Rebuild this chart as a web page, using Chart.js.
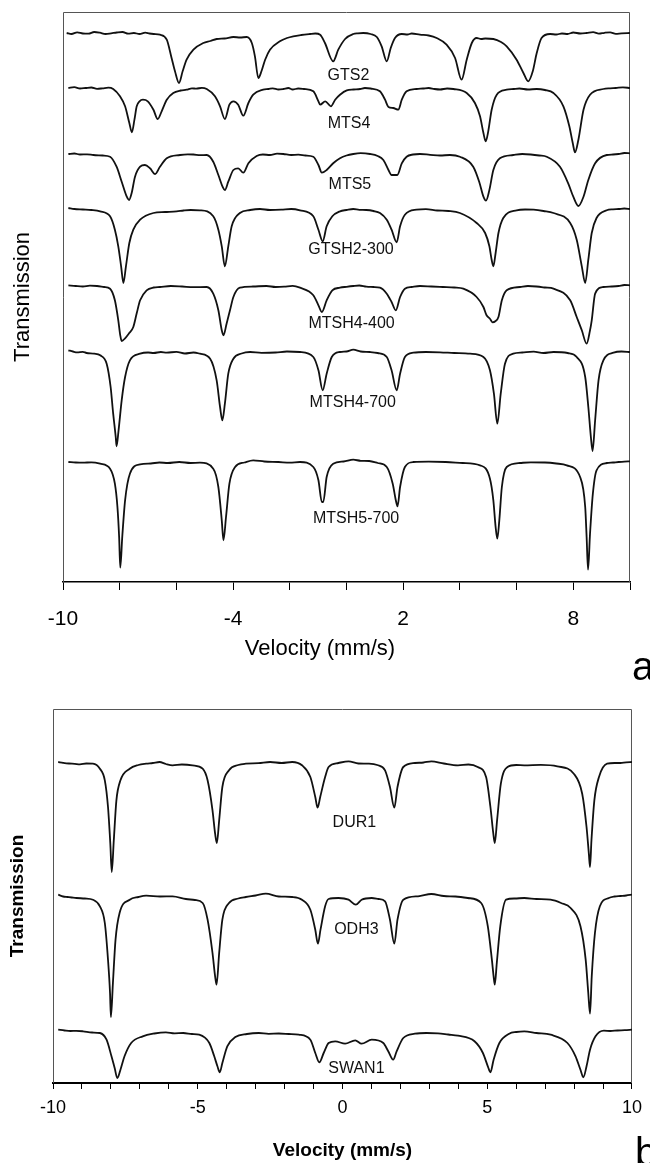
<!DOCTYPE html>
<html>
<head>
<meta charset="utf-8">
<title>Mössbauer spectra</title>
<script src="https://cdn.jsdelivr.net/npm/chart.js@4.4.1/dist/chart.umd.min.js"></script>
<style>
  html, body { margin: 0; padding: 0; background: #fff; }
  body { position: relative; width: 650px; height: 1163px; overflow: hidden; }
  #chartA { position: absolute; left: 0; top: 0; }
  #chartB { position: absolute; left: 0; top: 660px; }
</style>
</head>
<body>
<canvas id="chartA" width="650" height="690"></canvas>
<canvas id="chartB" width="650" height="503"></canvas>
<script>
// ================= DATA =================
// each spectrum: [velocity (mm/s), relative transmission (%)]

// ---- panel a ----
const gts2 = [
    [-9.87,100.0],[-9.7,99.9],[-9.5,100.07],[-9.3,99.95],[-9.1,99.93],[-8.9,100.1],[-8.7,100.03],
    [-8.5,99.9],[-8.3,99.97],[-8.1,100.05],[-7.9,100.1],[-7.7,99.93],[-7.5,100.0],[-7.3,99.9],
    [-7.1,100.03],[-6.95,99.95],[-6.8,99.9],[-6.58,99.83],[-6.34,99.33],[-6.17,97.5],[-6.05,96.17],[-5.91,95.0],
    [-5.78,96.17],[-5.64,97.33],[-5.4,98.33],[-5.05,99.0],[-4.8,99.2],[-4.58,99.4],[-4.3,99.45],[-3.99,99.6],
    [-3.75,99.55],[-3.52,99.6],[-3.34,99.0],[-3.23,97.67],[-3.11,95.5],[-3.0,96.17],[-2.87,97.33],
    [-2.7,98.33],[-2.35,99.17],[-2.1,99.5],[-1.88,99.67],[-1.6,99.8],[-1.29,99.9],[-1.1,99.95],[-0.93,99.83],[-0.76,99.0],
    [-0.47,97.17],[-0.29,98.33],[-0.05,99.4],[0.24,99.9],[0.4,99.97],[0.59,100.0],[0.85,99.9],[1.07,99.6],
    [1.24,98.67],[1.42,97.17],[1.56,98.5],[1.71,99.5],[1.95,99.9],[2.15,99.85],[2.3,99.95],[2.59,99.83],
    [2.9,99.75],[3.18,99.5],[3.53,98.83],[3.83,97.5],[4.06,95.33],[4.24,97.33],[4.42,99.0],
    [4.59,99.5],[4.75,99.4],[4.9,99.45],[5.18,99.4],[5.45,99.1],[5.65,98.67],[6.0,97.33],[6.24,96.0],[6.41,95.17],
    [6.57,96.17],[6.71,98.0],[6.88,99.5],[7.18,99.9],[7.4,99.85],[7.6,99.95],[7.8,99.9],[8.0,100.05],
    [8.25,99.95],[8.47,100.0],[8.7,100.08],[8.9,99.93],[9.1,100.02],[9.3,100.07],[9.5,99.92],[9.7,99.97],[10.0,100.0]
];
const mts4 = [
    [-9.81,100.0],[-9.6,100.08],[-9.4,99.95],[-9.2,100.0],[-9.0,100.05],[-8.8,99.92],[-8.6,99.97],
    [-8.4,100.03],[-8.23,99.9],[-7.99,99.17],[-7.81,98.17],
    [-7.66,96.5],[-7.57,95.57],[-7.48,96.83],[-7.4,98.17],[-7.3,98.67],[-7.18,98.83],[-7.01,98.67],
    [-6.81,97.83],[-6.66,96.9],[-6.52,97.67],[-6.34,98.83],[-6.11,99.5],[-5.85,99.75],[-5.64,99.83],[-5.45,99.97],[-5.3,99.93],
    [-5.1,100.02],[-4.93,99.9],[-4.64,99.17],[-4.46,98.17],[-4.29,96.9],[-4.13,98.33],[-3.99,98.67],[-3.82,98.33],
    [-3.64,97.23],[-3.46,98.5],[-3.29,99.33],[-2.94,99.83],[-2.75,99.9],[-2.6,99.97],[-2.4,99.85],[-2.23,99.9],[-2.05,100.0],[-1.9,99.85],
    [-1.7,99.95],[-1.5,99.9],[-1.17,99.67],[-0.99,98.67],[-0.93,98.33],[-0.75,98.67],[-0.55,98.17],[-0.4,98.83],
    [-0.23,99.33],[0.01,99.77],[0.25,99.85],[0.48,99.9],[0.65,100.0],[0.85,99.95],[1.18,99.67],[1.36,98.83],[1.48,98.1],
    [1.65,98.0],[1.83,97.83],[1.95,98.83],[2.12,99.67],[2.47,99.9],[2.7,99.95],[2.9,100.0],[3.1,99.9],[3.3,99.85],
    [3.55,99.95],[3.77,99.9],[4.24,99.5],[4.53,98.5],[4.71,97.17],[4.83,95.5],[4.91,94.67],[5.0,95.67],
    [5.12,97.83],[5.3,99.33],[5.65,99.83],[5.9,99.9],[6.1,99.95],[6.4,99.85],[6.71,99.9],[7.0,99.8],[7.3,99.5],[7.65,98.17],
    [7.86,96.17],[7.98,94.5],[8.06,93.57],[8.18,94.83],[8.36,97.83],[8.59,99.33],[9.06,99.9],
    [9.3,99.97],[9.5,100.0],[9.75,100.06],[10.0,100.0]
];
const mts5 = [
    [-9.81,100.0],[-9.6,100.05],[-9.4,99.95],[-9.15,99.97],[-8.93,99.9],[-8.6,99.85],[-8.34,99.73],[-8.11,98.73],[-7.93,97.23],[-7.75,95.73],
    [-7.67,95.4],[-7.58,96.07],[-7.46,97.73],[-7.28,98.73],[-7.11,98.9],[-6.93,98.57],[-6.75,98.0],
    [-6.58,98.73],[-6.34,99.57],[-5.87,99.9],[-5.6,99.97],[-5.4,99.95],[-5.15,99.88],[-4.93,99.9],[-4.7,99.23],[-4.52,97.9],
    [-4.37,96.73],[-4.29,96.4],[-4.17,97.23],[-3.99,98.4],[-3.82,98.57],[-3.64,98.13],[-3.46,99.07],
    [-3.17,99.8],[-2.95,99.95],[-2.7,99.9],[-2.45,100.03],[-2.23,100.0],[-1.95,99.9],[-1.7,99.93],[-1.45,99.85],[-1.17,99.73],[-0.99,98.9],[-0.87,98.13],
    [-0.7,98.4],[-0.47,99.07],[-0.23,99.57],[0.0,99.85],[0.24,100.0],[0.5,100.08],[0.83,100.0],[1.1,99.8],[1.3,99.4],[1.48,98.4],
    [1.59,97.9],[1.79,97.9],[1.95,99.07],[2.12,99.73],[2.35,99.95],[2.59,100.0],[2.95,99.92],[3.3,99.85],[3.65,99.9],[4.0,99.73],
    [4.47,98.73],[4.68,97.23],[4.83,95.73],[4.92,95.33],[5.04,96.4],[5.18,98.4],[5.41,99.57],
    [5.88,99.9],[6.2,100.0],[6.5,99.95],[6.8,99.85],[7.06,99.73],[7.53,98.73],[7.82,97.07],[8.0,95.73],[8.18,94.8],
    [8.36,95.73],[8.53,97.4],[8.77,99.07],[9.18,99.9],[9.4,99.95],[9.6,100.0],[9.8,100.1],[10.0,100.07]
];
const gtsh2_300 = [
    [-9.81,100.1],[-9.6,100.0],[-9.3,99.95],[-9.0,99.9],[-8.69,99.77],[-8.34,99.27],[-8.17,97.93],[-8.05,96.27],[-7.95,94.27],
    [-7.87,92.6],[-7.78,94.27],[-7.66,96.6],[-7.52,97.93],[-7.28,98.93],[-6.81,99.6],[-6.4,99.7],[-5.99,99.77],
    [-5.75,99.85],[-5.5,99.9],[-5.17,99.87],[-4.7,99.27],[-4.52,97.93],[-4.4,96.27],[-4.29,94.27],[-4.17,96.27],
    [-4.05,98.27],[-3.76,99.6],[-3.4,99.9],[-3.05,100.0],[-2.7,99.9],[-2.3,99.93],[-1.95,100.0],[-1.64,99.87],[-1.17,99.27],[-0.99,97.93],
    [-0.84,96.77],[-0.7,98.27],[-0.5,99.27],[-0.23,99.77],[0.0,99.9],[0.24,100.0],[0.45,99.92],[0.7,99.9],[0.95,99.8],[1.18,99.6],
    [1.42,98.93],[1.59,97.93],[1.77,96.67],[1.89,98.27],[2.06,99.43],[2.47,99.93],[2.8,99.98],[3.2,99.85],[3.6,99.8],
    [4.0,99.6],[4.59,98.6],[4.89,97.6],[5.04,96.27],[5.12,94.93],[5.18,94.27],[5.26,95.6],
    [5.36,97.6],[5.53,99.1],[6.0,99.87],[6.3,99.95],[6.6,99.93],[6.95,99.8],[7.3,99.6],[7.89,98.6],[8.12,96.93],
    [8.3,94.27],[8.42,92.6],[8.53,94.93],[8.65,97.6],[8.82,99.1],[9.18,99.87],[9.4,99.97],[9.6,100.0],[9.8,100.05],[10.0,100.0]
];
const mtsh4_400 = [
    [-9.81,100.07],[-9.55,100.0],[-9.3,99.95],[-9.05,100.03],[-8.8,100.0],[-8.55,99.9],[-8.34,99.73],[-8.17,98.57],[-8.05,96.57],[-7.98,95.07],
    [-7.93,94.5],[-7.81,94.77],[-7.67,95.27],[-7.52,95.9],[-7.4,97.27],[-7.28,98.57],[-7.05,99.57],
    [-6.8,99.85],[-6.58,99.9],[-6.2,100.0],[-5.8,99.95],[-5.4,99.88],[-4.93,99.9],[-4.7,99.23],[-4.52,97.57],[-4.4,95.57],[-4.34,95.07],
    [-4.23,96.23],[-4.11,97.57],[-3.99,98.9],[-3.76,99.83],[-3.3,99.95],[-2.82,100.0],[-2.5,99.9],[-2.2,99.93],[-1.9,100.02],[-1.64,99.83],
    [-1.17,99.07],[-0.99,98.07],[-0.87,97.4],[-0.7,98.57],[-0.5,99.57],[-0.23,99.83],[0.0,99.92],[0.24,100.0],
    [0.45,100.05],[0.7,99.93],[0.95,99.9],[1.18,99.83],[1.42,99.23],[1.59,98.4],[1.74,97.57],[1.89,98.9],[2.06,99.73],
    [2.3,99.9],[2.59,100.0],[3.0,99.95],[3.4,99.9],[3.8,99.85],[4.12,99.73],[4.59,98.9],[4.83,97.9],[4.94,97.07],[5.06,96.73],
    [5.15,96.37],[5.25,96.47],[5.36,96.9],[5.48,98.57],[5.65,99.57],[6.12,99.9],[6.4,100.0],[6.7,99.95],
    [7.0,99.85],[7.3,99.73],[7.89,98.57],[8.12,96.9],[8.3,95.57],[8.47,94.23],[8.59,95.57],[8.65,96.57],
    [8.77,99.23],[9.06,99.9],[9.35,99.95],[9.6,100.0],[9.8,100.1],[10.0,100.07]
];
const mtsh4_700 = [
    [-9.81,100.17],[-9.65,100.05],[-9.5,99.97],[-9.3,100.02],[-9.17,99.9],[-8.9,99.83],[-8.69,99.67],[-8.46,98.83],[-8.32,96.5],
    [-8.23,93.83],[-8.14,91.5],[-8.11,90.57],[-8.04,92.17],[-7.93,95.17],[-7.81,97.5],[-7.64,99.17],
    [-7.28,99.83],[-7.0,99.95],[-6.8,99.9],[-6.55,100.0],[-6.34,99.93],[-6.0,100.02],[-5.7,99.85],[-5.4,99.95],[-5.17,99.83],[-4.81,99.33],[-4.58,97.17],
    [-4.46,94.5],[-4.38,93.17],[-4.29,94.83],[-4.17,97.83],[-3.99,99.33],[-3.7,99.85],[-3.4,100.0],[-3.0,99.92],[-2.5,99.95],
    [-2.1,100.05],[-1.64,100.0],[-1.17,99.5],[-0.99,98.17],[-0.84,96.17],[-0.7,97.83],[-0.52,99.5],[-0.23,100.0],
    [0.0,100.05],[0.24,100.23],[0.5,100.05],[0.83,100.0],[1.1,99.9],[1.42,99.5],[1.59,98.17],[1.77,96.17],[1.89,97.83],[2.06,99.5],
    [2.36,99.93],[2.8,100.0],[3.3,99.97],[3.8,99.9],[4.36,99.83],[4.83,99.5],[5.06,98.17],[5.2,95.83],[5.32,92.83],
    [5.44,95.83],[5.59,98.83],[5.88,99.83],[6.2,99.95],[6.6,100.03],[6.95,99.9],[7.3,100.0],[7.8,99.9],[8.12,99.5],
    [8.42,97.5],[8.53,94.5],[8.62,91.5],[8.68,90.1],[8.77,93.17],[8.89,97.17],[9.06,99.17],
    [9.42,99.93],[9.7,100.05],[10.0,100.0]
];
const mtsh5_700 = [
    [-9.81,100.0],[-9.55,99.95],[-9.3,99.93],[-9.0,99.97],[-8.69,99.83],[-8.34,99.33],[-8.17,97.83],[-8.08,95.5],[-8.02,92.5],
    [-7.98,89.43],[-7.91,92.5],[-7.81,96.17],[-7.64,98.83],[-7.28,99.77],[-6.9,99.85],[-6.6,99.95],[-6.3,99.9],[-5.9,100.0],
    [-5.5,99.9],[-5.17,99.93],[-4.7,99.33],[-4.52,97.5],[-4.4,94.17],[-4.34,92.17],[-4.25,94.5],[-4.13,97.83],[-3.93,99.5],
    [-3.6,99.95],[-3.29,100.17],[-2.9,100.05],[-2.4,100.0],[-2.0,99.93],[-1.64,100.0],[-1.17,99.5],[-0.99,98.17],[-0.87,96.0],[-0.82,96.0],
    [-0.7,98.5],[-0.47,99.83],[-0.1,100.05],[0.24,100.23],[0.5,100.12],[0.8,100.1],[1.1,99.9],[1.42,99.5],[1.63,97.83],[1.74,96.17],
    [1.8,95.57],[1.89,97.5],[2.06,99.5],[2.36,100.0],[2.9,100.03],[3.5,100.0],[4.1,99.9],[4.71,99.67],[5.06,98.33],
    [5.18,96.17],[5.26,93.5],[5.32,92.33],[5.39,94.17],[5.48,97.5],[5.65,99.5],[6.12,99.9],
    [6.5,99.97],[7.0,99.95],[7.4,99.85],[7.77,99.67],[8.24,98.5],[8.42,95.5],[8.47,92.5],[8.52,89.23],[8.59,92.83],
    [8.69,96.83],[8.82,99.17],[9.18,99.9],[9.4,99.95],[9.6,100.0],[9.8,100.03],[10.0,100.07]
];

// ---- panel b ----
const dur1 = [
    [-9.82,100.1],[-9.65,100.02],[-9.45,99.95],[-9.25,99.92],[-9.07,99.87],[-8.85,99.95],[-8.62,99.93],[-8.38,99.43],[-8.21,98.27],[-8.1,95.6],
    [-8.02,91.93],[-7.97,89.1],[-7.9,92.27],[-7.81,96.27],[-7.67,98.27],[-7.35,99.43],[-7.05,99.8],[-6.78,99.93],
    [-6.55,100.0],[-6.32,100.1],[-6.1,99.9],[-5.87,99.77],[-5.55,99.85],[-5.18,99.77],[-4.83,99.43],[-4.66,98.27],[-4.49,95.27],[-4.4,92.93],
    [-4.34,92.0],[-4.26,94.27],[-4.15,97.6],[-3.92,99.27],[-3.6,99.8],[-3.34,99.93],[-2.9,99.98],[-2.5,100.1],[-2.1,100.0],[-1.74,100.1],
    [-1.4,99.77],[-1.11,98.6],[-0.94,96.6],[-0.86,95.53],[-0.77,96.6],[-0.6,98.6],[-0.48,99.6],
    [-0.14,100.0],[0.21,100.17],[0.55,99.95],[0.89,99.93],[1.2,99.8],[1.47,99.27],[1.64,97.6],[1.79,95.53],[1.9,97.6],
    [2.1,99.6],[2.5,100.0],[2.8,100.05],[3.07,100.17],[3.5,99.95],[3.99,99.77],[4.35,99.85],[4.67,99.6],[4.96,98.6],[5.11,95.6],
    [5.21,92.93],[5.26,92.0],[5.34,94.27],[5.47,97.93],[5.7,99.6],[6.0,99.8],[6.28,99.77],[6.85,99.82],[7.42,99.67],
    [7.99,98.93],[8.28,96.93],[8.43,93.6],[8.51,90.93],[8.55,89.6],[8.6,92.27],[8.7,96.27],
    [8.86,98.6],[9.14,99.93],[9.4,100.0],[9.6,100.0],[9.8,100.07],[10.0,100.1]
];
const odh3 = [
    [-9.82,100.23],[-9.65,100.05],[-9.5,100.0],[-9.35,99.95],[-9.19,99.9],[-8.9,99.85],[-8.62,99.73],[-8.38,99.07],[-8.21,97.4],[-8.1,93.73],
    [-8.03,90.4],[-8.0,88.0],[-7.93,91.4],[-7.84,95.73],[-7.7,98.4],[-7.35,99.73],[-7.05,100.0],[-6.78,100.13],
    [-6.3,100.05],[-5.87,100.07],[-5.41,99.8],[-5.1,99.7],[-4.83,99.4],[-4.66,97.73],[-4.49,94.4],[-4.4,92.07],[-4.35,91.23],
    [-4.26,94.4],[-4.15,97.73],[-3.92,99.4],[-3.6,99.85],[-3.34,100.0],[-3.0,100.15],[-2.65,100.33],[-2.2,100.05],[-1.74,100.0],[-1.4,99.73],
    [-1.11,98.73],[-0.94,96.73],[-0.85,95.33],[-0.76,96.73],[-0.6,99.07],[-0.48,99.8],[-0.14,99.9],
    [0.21,99.73],[0.46,99.23],[0.66,99.73],[1.01,99.9],[1.25,99.8],[1.47,99.57],[1.64,97.73],[1.79,95.33],
    [1.9,97.73],[2.1,99.73],[2.61,100.07],[3.07,100.3],[3.5,100.1],[3.9,100.05],[4.33,99.9],[4.79,99.4],[5.02,97.07],
    [5.16,93.73],[5.22,92.07],[5.26,91.23],[5.33,93.4],[5.45,97.07],[5.65,99.73],[5.95,99.85],[6.28,99.9],[6.7,99.8],
    [7.19,99.73],[7.55,99.4],[7.88,98.9],[8.22,97.07],[8.4,93.73],[8.49,90.4],[8.55,88.33],[8.61,92.07],
    [8.72,96.4],[8.89,99.07],[9.2,99.9],[9.4,100.05],[9.6,100.1],[9.8,100.15],[10.0,100.23]
];
const swan1 = [
    [-9.82,100.33],[-9.6,100.25],[-9.4,100.2],[-9.2,100.22],[-8.96,100.17],[-8.65,100.05],[-8.38,100.0],[-8.15,99.33],[-7.98,97.67],[-7.87,96.5],
    [-7.78,95.5],[-7.67,96.33],[-7.53,97.67],[-7.3,99.0],[-6.9,99.67],[-6.5,99.95],[-6.1,100.07],[-5.8,99.97],[-5.5,100.0],
    [-5.2,99.9],[-4.95,99.83],[-4.6,99.0],[-4.43,97.67],[-4.32,96.67],[-4.24,96.07],[-4.15,97.0],[-3.98,98.67],
    [-3.7,99.6],[-3.3,99.9],[-2.89,100.0],[-2.55,99.92],[-2.2,99.95],[-1.85,99.9],[-1.51,99.83],[-1.11,99.33],[-0.94,98.0],[-0.8,97.07],
    [-0.65,98.0],[-0.48,99.0],[-0.25,99.17],[0.09,98.93],[0.44,99.27],[0.66,98.93],[1.01,99.33],
    [1.41,99.0],[1.58,98.17],[1.75,97.33],[1.87,98.17],[2.1,99.5],[2.5,99.93],[2.9,100.0],[3.3,99.97],
    [3.65,99.85],[3.99,99.73],[4.56,99.17],[4.85,98.0],[5.02,96.67],[5.11,96.07],[5.22,97.33],[5.42,99.0],
    [5.76,99.93],[6.0,100.1],[6.28,100.17],[6.7,100.0],[7.19,99.83],[7.77,99.0],[8.05,97.67],[8.22,96.33],[8.32,95.57],
    [8.43,96.67],[8.55,98.33],[8.74,99.67],[9.03,100.23],[9.25,100.2],[9.5,100.25],[9.75,100.28],[10.0,100.33]
];

const namesA = ["GTS2", "MTS4", "MTS5", "GTSH2-300", "MTSH4-400", "MTSH4-700", "MTSH5-700"];
const spectraA = [gts2, mts4, mts5, gtsh2_300, mtsh4_400, mtsh4_700, mtsh5_700];
const levelsA = [54.9, 49.4, 42.8, 37.3, 29.6, 23.0, 12.0];   // stacking offsets
const tickLabelsA = [-10, -4, 2, 8];

const namesB = ["DUR1", "ODH3", "SWAN1"];
const spectraB = [dur1, odh3, swan1];
const levelsB = [32.0, 18.6, 5.0];
const tickLabelsB = [-10, -5, 0, 5, 10];

// ================= HELPERS =================
const FONT = "'Liberation Sans', Arial, Helvetica, sans-serif";
Chart.defaults.color = "#000";
Chart.defaults.font.family = FONT;

function toDatasets(spectra, levels) {
    return spectra.map((spec, i) => ({
        data: spec.map(([v, t]) => ({ x: v, y: t - 100 + levels[i] })),
        borderColor: "#111",
        borderWidth: 1.8,
        pointRadius: 0,
        cubicInterpolationMode: "monotone",
        fill: false
    }));
}

// top / left / right frame of the plot box
const framePlugin = {
    id: "frame",
    beforeDatasetsDraw(chart) {
        const { ctx, chartArea: a } = chart;
        ctx.save();
        ctx.strokeStyle = "#555";
        ctx.lineWidth = 1;
        ctx.beginPath();
        ctx.moveTo(a.left + 0.5, a.bottom);
        ctx.lineTo(a.left + 0.5, a.top + 0.5);
        ctx.lineTo(a.right - 0.5, a.top + 0.5);
        ctx.lineTo(a.right - 0.5, a.bottom);
        ctx.stroke();
        ctx.restore();
    }
};

// sample names next to each trace, panel letter, optional x title
const namesPlugin = {
    id: "names",
    afterDraw(chart, args, opts) {
        const { ctx, scales } = chart;
        ctx.save();
        ctx.fillStyle = "#111";
        ctx.font = "16px " + FONT;
        ctx.textAlign = "center";
        ctx.textBaseline = "middle";
        opts.names.forEach((name, i) => {
            const [v, y] = opts.at[i];
            ctx.fillText(name, scales.x.getPixelForValue(v), scales.y.getPixelForValue(y));
        });
        if (opts.xTitle) {
            ctx.fillStyle = "#000";
            ctx.font = "22px " + FONT;
            ctx.fillText(opts.xTitle, opts.xTitleX, opts.xTitleY);
        }
        ctx.fillStyle = "#000";
        ctx.font = "40px " + FONT;
        ctx.textAlign = "left";
        ctx.textBaseline = "alphabetic";
        ctx.fillText(opts.letter, opts.letterX, opts.letterY);
        ctx.restore();
    }
};

// ================= PANEL A =================
new Chart(document.getElementById("chartA"), {
    type: "line",
    data: { datasets: toDatasets(spectraA, levelsA) },
    plugins: [framePlugin, namesPlugin],
    options: {
        responsive: false,
        animation: false,
        devicePixelRatio: 1,
        layout: { padding: { top: 12, right: 20, left: 0, bottom: 0 } },
        plugins: {
            legend: { display: false },
            tooltip: { enabled: false },
            names: {
                names: namesA,
                at: [[0.07, 50.6], [0.09, 45.8], [0.12, 39.7], [0.16, 33.2], [0.18, 25.8], [0.22, 17.9], [0.34, 6.3]],
                xTitle: "Velocity (mm/s)", xTitleX: 320, xTitleY: 649,
                letter: "a", letterX: 632, letterY: 680
            }
        },
        scales: {
            x: {
                type: "linear",
                min: -10,
                max: 10,
                afterFit(scale) { scale.height = 108; },
                ticks: {
                    stepSize: 2,
                    autoSkip: false,
                    maxRotation: 0,
                    padding: 17,
                    font: { size: 21 },
                    callback: v => tickLabelsA.includes(v) ? String(v) : ""
                },
                grid: { drawOnChartArea: false, drawTicks: true, tickLength: 8, color: "#000", lineWidth: 1 },
                border: { display: true, color: "#000", width: 1.5 },
                title: { display: false }
            },
            y: {
                min: 0,
                max: 57,
                afterFit(scale) { scale.width = 63; },
                ticks: { display: false },
                grid: { display: false },
                border: { display: false },
                title: { display: true, text: "Transmission", font: { size: 22 }, padding: { top: 10, bottom: 0 } }
            }
        }
    }
});

// ================= PANEL B =================
new Chart(document.getElementById("chartB"), {
    type: "line",
    data: { datasets: toDatasets(spectraB, levelsB) },
    plugins: [framePlugin, namesPlugin],
    options: {
        responsive: false,
        animation: false,
        devicePixelRatio: 1,
        layout: { padding: { top: 49, right: 15, left: 0, bottom: 0 } },
        plugins: {
            legend: { display: false },
            tooltip: { enabled: false },
            names: {
                names: namesB,
                at: [[0.41, 26.0], [0.48, 15.3], [0.48, 1.4]],
                letter: "b", letterX: 635, letterY: 506
            }
        },
        scales: {
            x: {
                type: "linear",
                min: -10,
                max: 10,
                afterFit(scale) { scale.height = 80; },
                ticks: {
                    stepSize: 1,
                    autoSkip: false,
                    maxRotation: 0,
                    padding: 8,
                    font: { size: 18 },
                    callback: v => tickLabelsB.includes(v) ? String(v) : ""
                },
                grid: { drawOnChartArea: false, drawTicks: true, tickLength: 6, color: "#000", lineWidth: 1 },
                border: { display: true, color: "#000", width: 2 },
                title: { display: true, text: "Velocity (mm/s)", font: { size: 19, weight: "bold" }, padding: { top: 0, bottom: 1 } }
            },
            y: {
                min: 0,
                max: 37.4,
                afterFit(scale) { scale.width = 53; },
                ticks: { display: false },
                grid: { display: false },
                border: { display: false },
                title: { display: true, text: "Transmission", font: { size: 19, weight: "bold" }, padding: { top: 6, bottom: 0 } }
            }
        }
    }
});
</script>
</body>
</html>
